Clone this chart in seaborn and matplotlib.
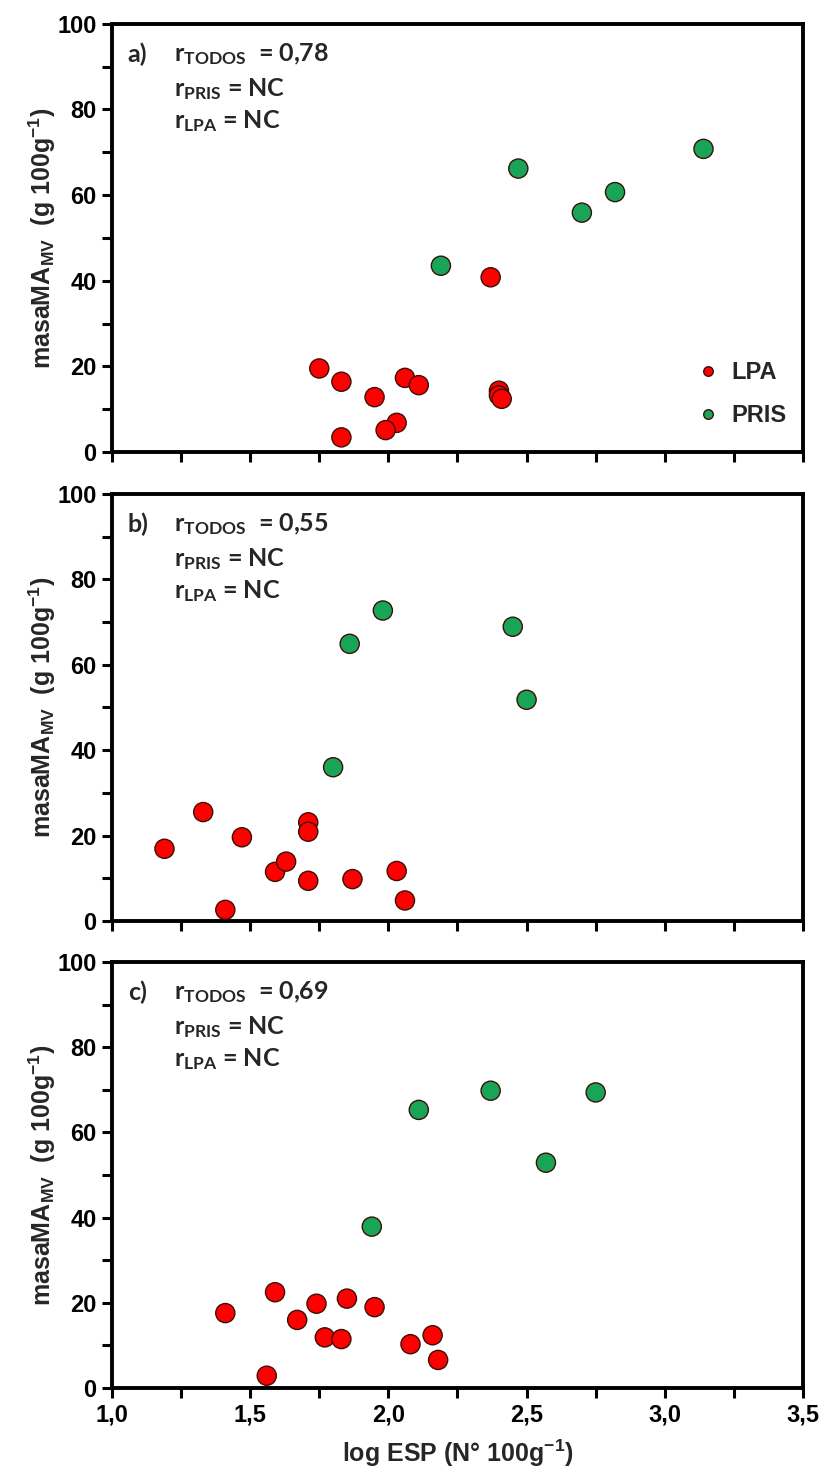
import numpy as np
import pandas as pd
import matplotlib
matplotlib.use('Agg')
import matplotlib.pyplot as plt
from matplotlib.ticker import MultipleLocator, FuncFormatter
import seaborn as sns

sns.set_style('ticks')
plt.rcParams['font.family'] = ['Liberation Sans', 'DejaVu Sans']
plt.rcParams['font.weight'] = 'bold'
plt.rcParams['mathtext.fontset'] = 'custom'
plt.rcParams['mathtext.rm'] = 'Liberation Sans'
plt.rcParams['mathtext.bf'] = 'Liberation Sans:bold'
plt.rcParams['mathtext.sf'] = 'Lato:bold'

# ============================================================
# DATA
# ============================================================

# panel a
a_lpa_x = [1.75, 1.83, 1.95, 2.06, 2.11, 2.40, 2.40, 2.41, 2.03, 1.99, 1.83, 2.37]
a_lpa_y = [19.5, 16.4, 12.8, 17.3, 15.6, 14.3, 13.2, 12.4, 6.8, 5.1, 3.4, 40.8]
a_pris_x = [2.19, 2.47, 2.70, 2.82, 3.14]
a_pris_y = [43.5, 66.2, 55.9, 60.7, 70.8]

# panel b
b_lpa_x = [1.19, 1.33, 1.41, 1.47, 1.59, 1.63, 1.71, 1.71, 1.71, 1.87, 2.03, 2.06]
b_lpa_y = [16.9, 25.5, 2.6, 19.6, 11.5, 13.9, 23.1, 20.9, 9.4, 9.8, 11.7, 4.8]
b_pris_x = [1.80, 1.86, 1.98, 2.45, 2.50]
b_pris_y = [36.0, 64.9, 72.7, 68.9, 51.8]

# panel c
c_lpa_x = [1.41, 1.56, 1.59, 1.67, 1.74, 1.77, 1.83, 1.85, 1.95, 2.08, 2.16, 2.18]
c_lpa_y = [17.6, 2.9, 22.5, 16.0, 19.8, 11.9, 11.5, 21.0, 19.0, 10.3, 12.4, 6.6]
c_pris_x = [1.94, 2.11, 2.37, 2.57, 2.75]
c_pris_y = [37.9, 65.3, 69.8, 52.9, 69.4]

panel_tags = ['a)', 'b)', 'c)']
r_todos = ['0,78', '0,55', '0,69']
r_pris = ['NC', 'NC', 'NC']
r_lpa = ['NC', 'NC', 'NC']

sites = ['LPA', 'PRIS']
colors = {'LPA': '#FF0000', 'PRIS': '#18A558'}

panel_data = [
    (a_lpa_x, a_lpa_y, a_pris_x, a_pris_y),
    (b_lpa_x, b_lpa_y, b_pris_x, b_pris_y),
    (c_lpa_x, c_lpa_y, c_pris_x, c_pris_y),
]

# ============================================================
# FIGURE
# ============================================================

fig = plt.figure(figsize=(8.24, 14.74), dpi=100)
positions = [
    [0.1359, 0.6934, 0.8386, 0.2904],
    [0.1359, 0.3752, 0.8386, 0.2897],
    [0.1359, 0.0583, 0.8386, 0.2890],
]

comma = FuncFormatter(lambda v, p: f'{v:.1f}'.replace('.', ','))

for i, (lx, ly, px, py) in enumerate(panel_data):
    ax = fig.add_axes(positions[i])
    df = pd.DataFrame({
        'x': lx + px,
        'y': ly + py,
        'sitio': ['LPA'] * len(lx) + ['PRIS'] * len(px),
    })
    sns.scatterplot(data=df, x='x', y='y', hue='sitio', hue_order=sites,
                    palette=colors, s=190, edgecolor='#3b1008', linewidth=1.0,
                    ax=ax, legend=(i == 0), zorder=3, clip_on=False)

    ax.set_xlim(1.0, 3.5)
    ax.set_ylim(0, 100)
    ax.xaxis.set_major_locator(MultipleLocator(0.5))
    ax.xaxis.set_minor_locator(MultipleLocator(0.25))
    ax.yaxis.set_major_locator(MultipleLocator(20))
    ax.yaxis.set_minor_locator(MultipleLocator(10))
    ax.xaxis.set_major_formatter(comma)
    ax.tick_params(which='both', direction='out', length=7, width=2.2,
                   colors='black', labelsize=17, pad=4)
    for sp in ax.spines.values():
        sp.set_linewidth(2.8)
        sp.set_color('black')

    if i < 2:
        ax.tick_params(labelbottom=False)
        ax.set_xlabel('')
    else:
        ax.set_xlabel(r'log ESP (N° 100g$^{\mathbf{-1}}$)', fontsize=18,
                      fontweight='bold', labelpad=8)

    ax.set_ylabel(r'masaMA$_{\mathbf{MV}}$  (g 100g$^{\mathbf{-1}}$)',
                  fontsize=18, fontweight='bold')
    ax.yaxis.set_label_coords(-0.078, 0.5)

    # correlation text
    ax.text(0.023, 0.93, panel_tags[i], transform=ax.transAxes,
            fontsize=18, fontweight='bold', family='Lato', va='center')
    ax.text(0.09, 0.93, r'$\mathsf{r_{TODOS}}$  = ' + r_todos[i],
            transform=ax.transAxes, fontsize=18, fontweight='bold',
            family='Lato', va='center')
    ax.text(0.09, 0.848, r'$\mathsf{r_{PRIS}}$ = ' + r_pris[i],
            transform=ax.transAxes, fontsize=18, fontweight='bold',
            family='Lato', va='center')
    ax.text(0.09, 0.772, r'$\mathsf{r_{LPA}}$ = ' + r_lpa[i],
            transform=ax.transAxes, fontsize=18, fontweight='bold',
            family='Lato', va='center')

    if i == 0:
        sns.move_legend(ax, 'lower right', bbox_to_anchor=(1.0, 0.02),
                        frameon=False, title=None, markerscale=0.5,
                        handletextpad=0.0, labelspacing=0.85, fontsize=17,
                        borderpad=0.2)

plt.savefig('out.png', dpi=100)
plt.close()
